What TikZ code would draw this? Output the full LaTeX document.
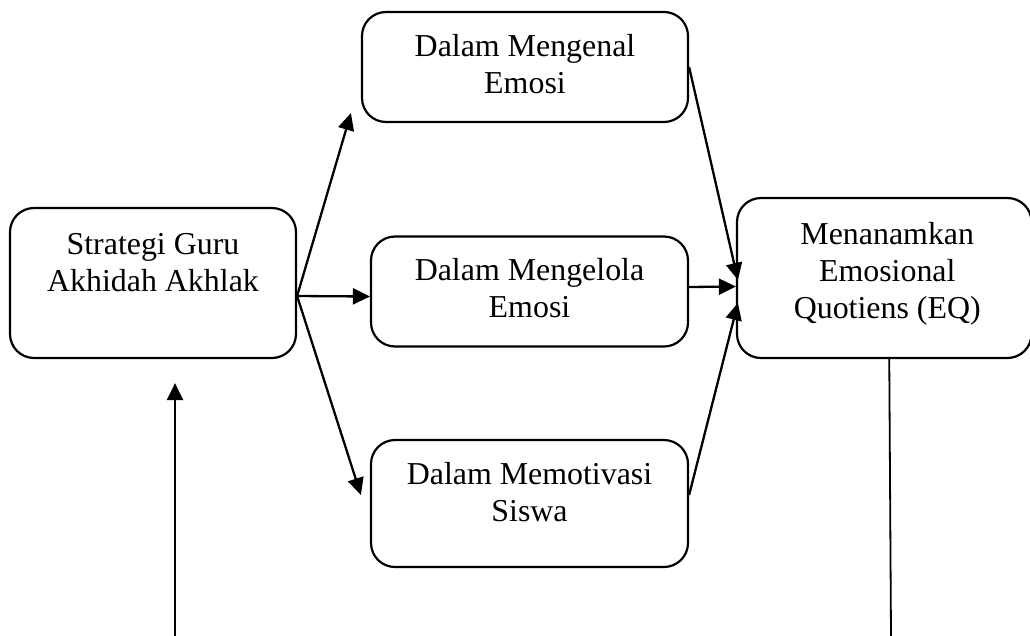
\documentclass[tikz,border=0pt]{standalone}
\usepackage{fontspec}
\setmainfont{Liberation Serif}
\usetikzlibrary{arrows.meta}
\tikzset{
  box/.style={draw, line width=2.2pt, rounded corners=24pt, inner sep=0pt},
  txt/.style={anchor=north, align=center, inner sep=0pt, font=\fontsize{31.9}{37}\selectfont},
  conn/.style={line width=2.3pt, -{Triangle[length=17pt,width=16pt]}},
  plain/.style={line width=1.8pt}
}
\begin{document}
\begin{tikzpicture}[x=1pt,y=-1pt]
\useasboundingbox (0,0) rectangle (1030,635);
\clip (0,0) rectangle (1030,635);
% boxes
\node[box, minimum width=286pt, minimum height=150pt] (S) at (153,283) {};
\node[box, minimum width=326pt, minimum height=110pt] (A) at (525,67) {};
\node[box, minimum width=317pt, minimum height=110pt] (B) at (529.5,291.5) {};
\node[box, minimum width=317pt, minimum height=127pt] (C) at (529.5,503.5) {};
\node[box, minimum width=294.5pt, minimum height=160pt] (E) at (884.25,278) {};
% texts
\node[txt] (St) at ([yshift=-21pt]S.north) {\strut Strategi Guru\\Akhidah Akhlak};
\node[txt] (At) at ([yshift=-19.3pt]A.north) {\strut Dalam Mengenal\\Emosi};
\node[txt] (Bt) at ([yshift=-19.3pt]B.north) {\strut Dalam Mengelola\\Emosi};
\node[txt] (Ct) at ([yshift=-19.3pt]C.north) {\strut Dalam Memotivasi\\Siswa};
\node[txt] (Et) at ([xshift=3pt,yshift=-21pt]E.north) {\strut Menanamkan\\Emosional\\Quotiens (EQ)};
% connectors
\draw[conn] ([yshift=-13pt]S.east) -- ([xshift=-10pt,yshift=10pt]A.south west);
\draw[conn] ([yshift=-13pt]S.east) -- ([yshift=-5pt]B.west);
\draw[conn] ([yshift=-13pt]S.east) -- ([xshift=-9pt,yshift=8.5pt]C.west);
\draw[conn] (A.east) -- ([xshift=2pt,yshift=-2pt]E.west);
\draw[conn] ([yshift=4.5pt]B.east) -- ([yshift=-8.5pt]E.west);
\draw[conn] ([yshift=8.5pt]C.east) -- ([xshift=2pt,yshift=-25pt]E.west);
\coordinate (bl) at (175,636);
\coordinate (br) at (891,636);
\draw[conn] (bl) -- ([xshift=22pt,yshift=-24pt]S.south);
\draw[plain] ([xshift=5pt]E.south) -- (br);
\end{tikzpicture}
\end{document}
